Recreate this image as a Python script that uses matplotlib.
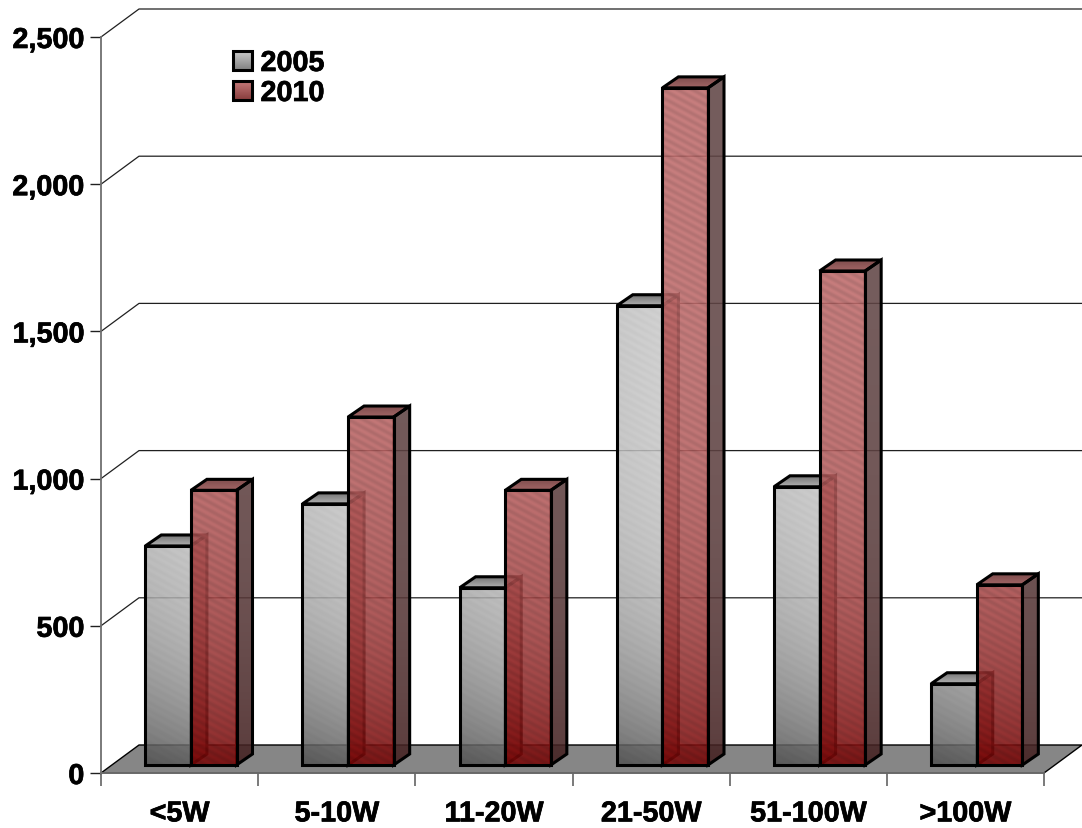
import numpy as np
import matplotlib
matplotlib.use("Agg")
import matplotlib.pyplot as plt
import matplotlib.patheffects as pe
from matplotlib.patches import Polygon

plt.rcParams['font.family'] = ['Liberation Sans', 'DejaVu Sans']

categories = ['<5W', '5-10W', '11-20W', '21-50W', '51-100W', '>100W']
values_2005 = [744, 887, 602, 1560, 945, 276]
values_2010 = [933, 1182, 933, 2300, 1678, 612]
y_ticks = [0, 500, 1000, 1500, 2000, 2500]

W, H = 1082, 829
LEFT, RIGHT, TOP, BOTTOM = 101, 1044, 38, 774
PX_X = 6 / (RIGHT - LEFT)
PX_Y = 2500 / (BOTTOM - TOP)

# 3D offsets, in data units
WALL_DX, WALL_DY = 38 * PX_X, 28 * PX_Y
BAR_DX, BAR_DY = 16 * PX_X, 11 * PX_Y
BAR_W = 45.6 * PX_X
BAR_START = 44.3 * PX_X
BAR_BASE = 8 * PX_Y
EDGE = 2.2
BOLD = [pe.withStroke(linewidth=0.5, foreground='black')]

fig = plt.figure(figsize=(W / 100, H / 100), dpi=100)
ax = fig.add_axes([LEFT / W, 1 - BOTTOM / H, (RIGHT - LEFT) / W, (BOTTOM - TOP) / H])


def gradient_face(corners, top_rgb, bottom_rgb, alpha, stripes=0.0, dark_left=0.0, power=6, local=False, z=3):
    # gradient image clipped to a polygon, so the face stays see-through
    corners = np.array(corners)
    x0, x1 = corners[:, 0].min(), corners[:, 0].max()
    y0, y1 = corners[:, 1].min(), corners[:, 1].max()
    nx = max(int((x1 - x0) / PX_X), 2)
    ny = max(int((y1 - y0) / PX_Y), 2)
    xx, yy = np.meshgrid(np.arange(nx), np.arange(ny))
    if local:
        t = yy / (ny - 1)
    else:
        # t = 0 at chart top, 1 at chart bottom, whatever the bar height
        base_y = (BOTTOM - TOP) - (y1 / PX_Y)
        t = np.clip((yy + base_y) / (BOTTOM - TOP), 0, 1) ** power
    top = np.array(top_rgb, dtype=float)
    bottom = np.array(bottom_rgb, dtype=float)
    rgb = top[None, None, :] * (1 - t[..., None]) + bottom[None, None, :] * t[..., None]
    if stripes:
        rgb *= 1 - stripes * (0.5 + 0.5 * np.sin((yy - 0.55 * xx) * 2 * np.pi / 8))[..., None]
    if dark_left:
        rgb *= 1 - dark_left * np.clip(1 - xx / nx, 0, 1)[..., None] * (0.3 + 0.7 * t[..., None])
    a = np.full((ny, nx, 1), alpha)
    img = np.concatenate([np.clip(rgb, 0, 255) / 255, a], axis=2)
    im = ax.imshow(img, extent=(x0, x1, y0, y1), aspect='auto', origin='upper',
                   interpolation='bilinear', zorder=z)
    poly = Polygon(corners, closed=True, transform=ax.transData)
    im.set_clip_box(fig.bbox)
    im.set_clip_path(poly)
    ax.add_patch(Polygon(corners, closed=True, fill=False, edgecolor='black',
                         linewidth=EDGE, joinstyle='miter', clip_on=False, zorder=z + 0.1))


def draw_bar(x, value, front, side, roof, alpha, stripes, dark_left, power, z):
    y0, y1 = BAR_BASE, value + BAR_BASE
    x1 = x + BAR_W
    gradient_face([(x1, y0), (x1 + BAR_DX, y0 + BAR_DY), (x1 + BAR_DX, y1 + BAR_DY), (x1, y1)],
                  side[0], side[1], alpha, power=power, z=z)
    gradient_face([(x, y1), (x1, y1), (x1 + BAR_DX, y1 + BAR_DY), (x + BAR_DX, y1 + BAR_DY)],
                  roof[0], roof[1], 1.0, local=True, z=z)
    gradient_face([(x, y0), (x1, y0), (x1, y1), (x, y1)],
                  front[0], front[1], alpha, stripes=stripes, dark_left=dark_left, power=power, z=z + 0.2)


# back wall gridlines and their returns to the axis
for t in y_ticks[1:]:
    ax.plot([0, WALL_DX, 6 + WALL_DX], [t, t + WALL_DY, t + WALL_DY],
            color='#202020', lw=0.9, clip_on=False, zorder=1)

# floor
ax.add_patch(Polygon([(0, 0), (6, 0), (6 + WALL_DX, WALL_DY), (WALL_DX, WALL_DY)], closed=True,
                     facecolor='#868686', edgecolor='black', lw=1.0, clip_on=False, zorder=2))

gray_front = ((203, 203, 203), (85, 85, 85))
gray_side = ((150, 60, 60), (120, 30, 30))
gray_roof = ((120, 120, 120), (175, 175, 175))
red_front = ((192, 108, 108), (118, 0, 0))
red_side = ((98, 70, 70), (66, 30, 30))
red_roof = ((128, 78, 78), (160, 100, 100))

for i, v in enumerate(values_2005):
    draw_bar(i + BAR_START, v, gray_front, gray_side, gray_roof, 0.85, 0.03, 0.14, 6, 3)
for i, v in enumerate(values_2010):
    draw_bar(i + BAR_START + BAR_W, v, red_front, red_side, red_roof, 0.88, 0.12, 0.0, 4, 4)

# legend
legend_items = [('2005', ((205, 205, 205), (135, 135, 135)), 61),
                ('2010', ((200, 125, 125), (140, 65, 65)), 91)]
for label, grad, py in legend_items:
    yc = (BOTTOM - py) * PX_Y
    lx = (233 - LEFT) * PX_X
    half = 9.5 * PX_Y
    gradient_face([(lx, yc - half), (lx + 19 * PX_X, yc - half),
                   (lx + 19 * PX_X, yc + half), (lx, yc + half)],
                  grad[0], grad[1], 1.0, local=True, z=6)
    ax.text((260.5 - LEFT) * PX_X, yc, label, fontsize=20.7, fontweight='bold',
            va='center_baseline', ha='left', zorder=6, path_effects=BOLD)

ax.set_xlim(0, 6)
ax.set_ylim(0, 2500)
ax.patch.set_visible(False)
for s in ['top', 'right']:
    ax.spines[s].set_visible(False)
for s in ['left', 'bottom']:
    ax.spines[s].set_color('#707070')
    ax.spines[s].set_linewidth(1.3)
    ax.spines[s].set_zorder(2.5)

ax.set_yticks(y_ticks)
ax.set_yticklabels([f'{t:,}' for t in y_ticks], fontsize=20.7, fontweight='bold', path_effects=BOLD)
ax.tick_params(axis='y', length=8, width=1.0, color='#202020', pad=4)

ax.set_xticks(range(7))
ax.set_xticklabels([])
ax.tick_params(axis='x', which='major', length=9, width=1.3, color='#707070')
ax.set_xticks(np.arange(6) + 0.5, minor=True)
ax.set_xticklabels(categories, minor=True, fontsize=20.7, fontweight='bold', path_effects=BOLD)
ax.tick_params(axis='x', which='minor', length=0, pad=19)

fig.savefig('out.png', dpi=100)
